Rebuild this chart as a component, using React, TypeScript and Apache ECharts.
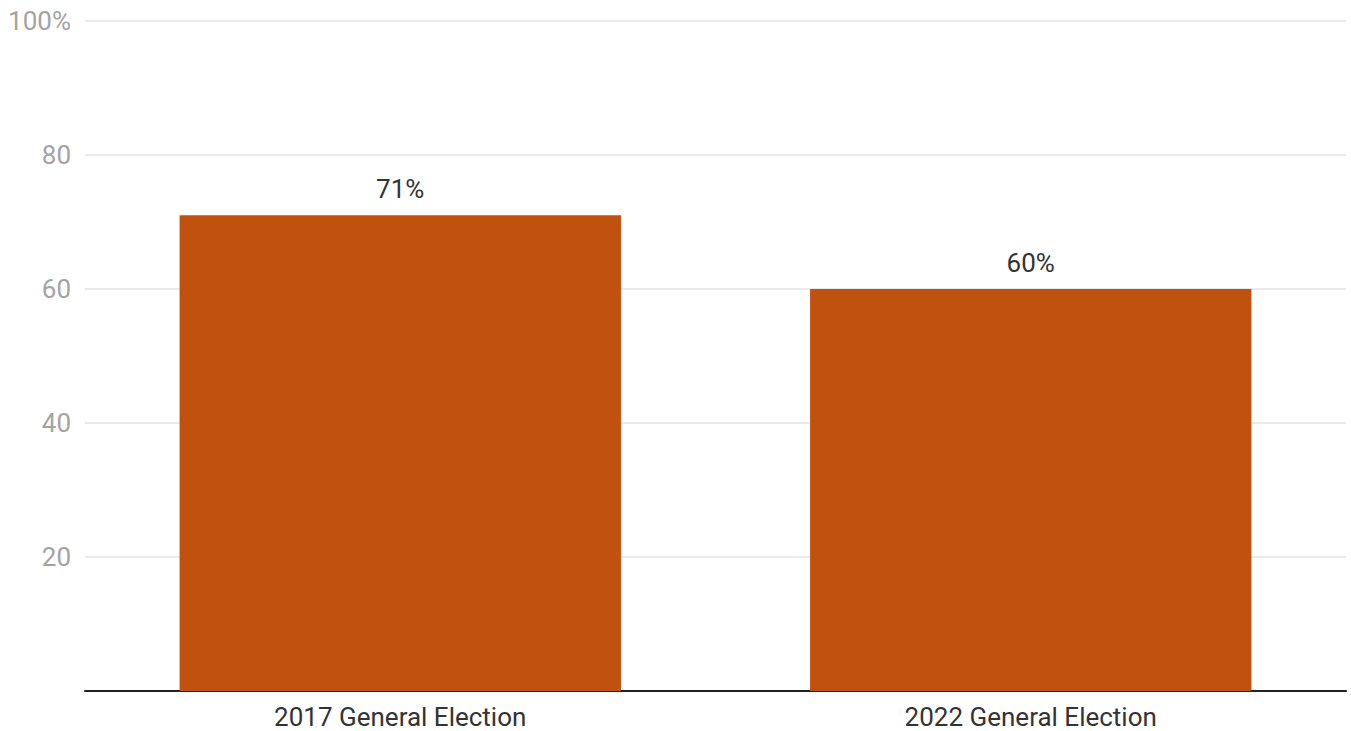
import React, { useEffect, useRef } from "react";
import * as echarts from "echarts";

const categories = ["2017 General Election", "2022 General Election"];
const values = [71, 60];
const yTicks = [0, 20, 40, 60, 80, 100];

export default function App() {
  const ref = useRef<HTMLDivElement>(null);
  useEffect(() => {
    if (!ref.current) return;
    const chart = echarts.init(ref.current, undefined, { renderer: "svg" });
    chart.setOption({
      animation: false,
      textStyle: { fontFamily: "Roboto" },
      grid: { left: 85, right: 5, top: 21, bottom: 40, containLabel: false },
      xAxis: {
        type: "category",
        data: categories,
        axisLine: { show: true, lineStyle: { color: "#212121", width: 2 } },
        axisTick: { show: false },
        axisLabel: {
          color: "#333333",
          fontSize: 26,
          lineHeight: 26,
          margin: 13,
          fontFamily: "Roboto",
        },
      },
      yAxis: {
        type: "value",
        min: yTicks[0],
        max: yTicks[yTicks.length - 1],
        interval: 20,
        axisLine: { show: false },
        axisTick: { show: false },
        splitLine: { lineStyle: { color: "#e3e3e3", width: 1.5 } },
        axisLabel: {
          color: "#a3a3a3",
          fontSize: 26,
          margin: 14,
          fontFamily: "Roboto",
          formatter: (v: number) => (v === 0 ? "" : v === 100 ? "100%" : String(v)),
        },
      },
      series: [
        {
          type: "bar",
          data: values,
          barCategoryGap: "30%",
          itemStyle: { color: "#c0510e" },
          label: {
            show: true,
            position: "top",
            distance: 13,
            color: "#333333",
            fontSize: 26,
            fontFamily: "Roboto",
            formatter: (p: any) => p.value + "%",
          },
        },
      ],
    });
    return () => chart.dispose();
  }, []);
  return (
    <div
      ref={ref}
      style={{ position: "fixed", left: 0, top: 0, width: 1351, height: 731, background: "#fff" }}
    />
  );
}
